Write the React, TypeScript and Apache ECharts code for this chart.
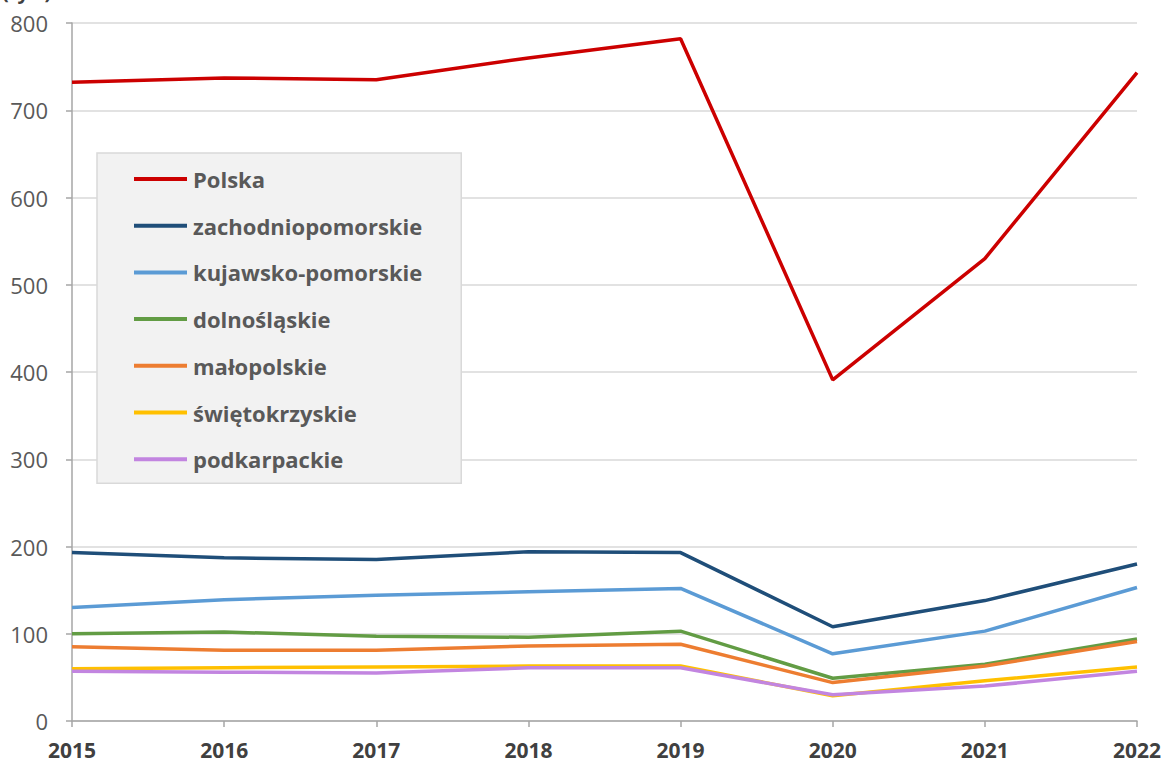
import React, { useEffect, useRef } from "react";
import * as echarts from "echarts";

const years = ["2015", "2016", "2017", "2018", "2019", "2020", "2021", "2022"];
const polska = [732, 737, 735, 760, 782, 391, 530, 743];
const zachodniopomorskie = [193, 187, 185, 194, 193, 108, 138, 180];
const kujawskoPomorskie = [130, 139, 144, 148, 152, 77, 103, 153];
const dolnoslaskie = [100, 102, 97, 96, 103, 49, 65, 94];
const malopolskie = [85, 81, 81, 86, 88, 44, 63, 91];
const swietokrzyskie = [60, 61, 62, 63, 63, 29, 46, 62];
const podkarpackie = [57, 56, 55, 61, 61, 30, 40, 57];

const seriesDefs = [
  { name: "Polska", data: polska, color: "#cc0000" },
  { name: "zachodniopomorskie", data: zachodniopomorskie, color: "#1f4e79" },
  { name: "kujawsko-pomorskie", data: kujawskoPomorskie, color: "#5b9bd5" },
  { name: "dolnośląskie", data: dolnoslaskie, color: "#629c44" },
  { name: "małopolskie", data: malopolskie, color: "#ed7d31" },
  { name: "świętokrzyskie", data: swietokrzyskie, color: "#ffc000" },
  { name: "podkarpackie", data: podkarpackie, color: "#c285e0" },
];

const FONT = "'Open Sans', 'Noto Sans', sans-serif";

export default function App() {
  const ref = useRef<HTMLDivElement>(null);
  useEffect(() => {
    if (!ref.current) return;
    const chart = echarts.init(ref.current, undefined, { renderer: "svg" });
    chart.setOption({
      animation: false,
      backgroundColor: "#ffffff",
      textStyle: { fontFamily: FONT },
      grid: { left: 72, right: 30, top: 23, bottom: 44, containLabel: false },
      graphic: [
        {
          type: "text",
          left: 2,
          top: -19,
          style: { text: "(tys.)", fontSize: 20, fontWeight: "bold", fill: "#404040", fontFamily: FONT },
        },
      ],
      legend: {
        orient: "vertical",
        left: 97,
        top: 153,
        backgroundColor: "#f2f2f2",
        borderColor: "#d9d9d9",
        borderWidth: 1.5,
        borderRadius: 0,
        padding: [15, 39, 13, 37],
        itemGap: 24.7,
        itemWidth: 53,
        itemHeight: 4,
        icon: "rect",
        textStyle: { fontSize: 22, fontWeight: "bold", color: "#595959", fontFamily: FONT, lineHeight: 22, padding: [0, 0, 0, 1] },
        data: seriesDefs.map((s) => s.name),
      },
      xAxis: {
        type: "category",
        data: years,
        boundaryGap: false,
        axisLine: { lineStyle: { color: "#a6a6a6", width: 1.5 } },
        axisTick: { show: true, length: 6, lineStyle: { color: "#a6a6a6", width: 1.5 } },
        axisLabel: { fontSize: 21, fontWeight: "bold", color: "#404040", margin: 18, fontFamily: FONT },
        splitLine: { show: false },
      },
      yAxis: {
        type: "value",
        min: 0,
        max: 800,
        interval: 100,
        axisLine: { show: true, lineStyle: { color: "#a6a6a6", width: 1.5 } },
        axisTick: { show: true, length: 6, lineStyle: { color: "#a6a6a6", width: 1.5 } },
        axisLabel: { fontSize: 22, color: "#595959", margin: 24, fontFamily: FONT },
        splitLine: { lineStyle: { color: "#d9d9d9", width: 1.5 } },
      },
      series: seriesDefs.map((s) => ({
        name: s.name,
        type: "line",
        data: s.data,
        symbol: "none",
        color: s.color,
        lineStyle: { color: s.color, width: 3.5 },
        itemStyle: { color: s.color },
      })),
    });
    return () => chart.dispose();
  }, []);
  return (
    <div
      ref={ref}
      style={{ position: "absolute", left: 0, top: 0, width: 1167, height: 765 }}
    />
  );
}
